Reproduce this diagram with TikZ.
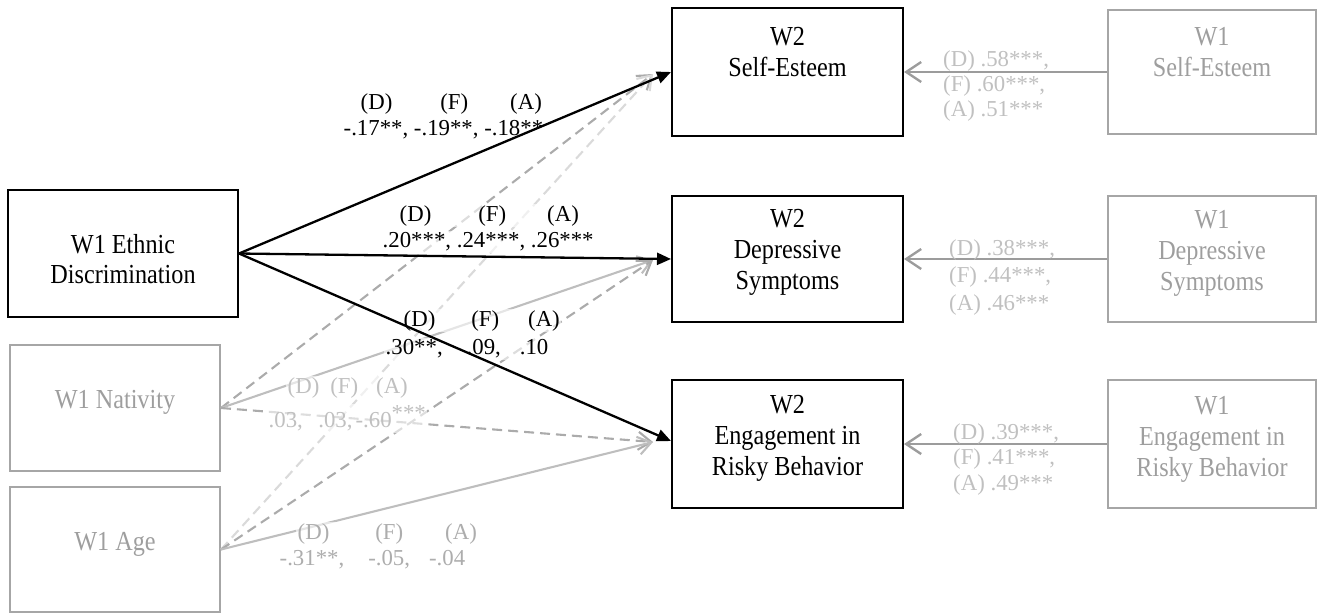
\documentclass[tikz,border=0pt]{standalone}
\usepackage{fontspec}
\setmainfont{Liberation Serif}
\newfontfamily\boxfont[FakeStretch=0.88]{Liberation Serif}
\usetikzlibrary{arrows.meta}
\definecolor{boxgray}{HTML}{A6A6A6}
\definecolor{txtgray}{HTML}{9E9E9E}
\definecolor{labgray}{HTML}{C0C0C0}
\definecolor{arrgray}{HTML}{9C9C9C}
\definecolor{lnA}{HTML}{ABABAB}
\definecolor{lnB}{HTML}{DADADA}
\definecolor{lnC}{HTML}{BEBEBE}
\begin{document}
\begin{tikzpicture}[x=1pt,y=-1pt,
  wbox/.style={draw=black,line width=2pt,inner sep=0pt},
  gbox/.style={draw=boxgray,line width=2pt,inner sep=0pt},
  btxt/.style={font=\boxfont\fontsize{27.5}{31}\selectfont,align=center,inner sep=0pt,anchor=north},
  gtxt/.style={btxt,text=txtgray},
  lab/.style={font=\fontsize{22.8}{25}\selectfont,inner sep=1.5pt,anchor=base west,fill=white,fill opacity=0.6,text opacity=1},
  glab/.style={lab,text=labgray},
  rlab/.style={font=\fontsize{22.8}{25}\selectfont,inner sep=0pt,anchor=north west,align=left,text=labgray},
  blk/.style={draw=black,line width=2.3pt,-{Triangle[length=14pt,width=12pt]}},
  gtip/.style={-{Straight Barb[length=13pt,width=18pt]}},
  gdash/.style={gtip,line width=2.1pt,dash pattern=on 10pt off 6pt},
  gsolid/.style={gtip,line width=2.1pt},
  rarr/.style={draw=arrgray,line width=2.4pt,-{Straight Barb[length=15pt,width=20pt]}}
]
\useasboundingbox (0,0) rectangle (1324,614);

% boxes
\node[wbox,minimum width=230pt,minimum height=127pt] (eth) at (123,253.5) {};
\node[gbox,minimum width=210pt,minimum height=126pt] (nat) at (115,408) {};
\node[gbox,minimum width=210pt,minimum height=125pt] (age) at (115,549.5) {};
\node[wbox,minimum width=231pt,minimum height=128pt] (se2) at (787.5,72) {};
\node[wbox,minimum width=231pt,minimum height=126pt] (dep2) at (787.5,259) {};
\node[wbox,minimum width=231pt,minimum height=128pt] (eng2) at (787.5,444) {};
\node[gbox,minimum width=208pt,minimum height=124pt] (se1) at (1212,72) {};
\node[gbox,minimum width=208pt,minimum height=126pt] (dep1) at (1212,259) {};
\node[gbox,minimum width=208pt,minimum height=128pt] (eng1) at (1212,444) {};

% box texts
\node[btxt,font=\boxfont\fontsize{27.5}{29.5}\selectfont] (etht) at (123,234.5) {W1 Ethnic\\Discrimination};
\node[gtxt] (natt) at (115,390) {W1 Nativity};
\node[gtxt] (aget) at (115,532) {W1 Age};
\node[btxt] (se2t) at (787.5,27.5) {W2\\Self-Esteem};
\node[btxt] (dep2t) at (787.5,209.5) {W2\\Depressive\\Symptoms};
\node[btxt] (eng2t) at (787.5,395.5) {W2\\Engagement in\\Risky Behavior};
\node[gtxt] (se1t) at (1212,27.5) {W1\\Self-Esteem};
\node[gtxt] (dep1t) at (1212,210.5) {W1\\Depressive\\Symptoms};
\node[gtxt] (eng1t) at (1212,396.5) {W1\\Engagement in\\Risky Behavior};

% gray tips
\coordinate (gse) at (653,74);
\coordinate (gdep) at (653,260);
\coordinate (geng) at (653,442);

% gray connectors from covariates
\draw[gdash,draw=lnA] (nat.east) -- (gse);
\draw[gdash,draw=lnB] (age.east) -- (gse);
\draw[gsolid,draw=lnC] (nat.east) -- (gdep);
\draw[gdash,draw=lnA] (age.east) -- (gdep);
\draw[gdash,draw=lnA] (nat.east) -- (geng);
\draw[gsolid,draw=lnC] (age.east) -- (geng);

% labels
\node[lab] (lse1) at (359,109) {(D)\hspace{48pt}(F)\hspace{42pt}(A)};
\node[lab] (lse2) at (342,135.8) {-.17**, -.19**, -.18**};
\node[lab] (ldep1) at (398,221) {(D)\hspace{47pt}(F)\hspace{41pt}(A)};
\node[lab] (ldep2) at (381,247.8) {.20***, .24***, .26***};
\node[lab] (leng1) at (402,326) {(D)\hspace{36pt}(F)\hspace{29pt}(A)};
\node[lab] (leng2) at (384,354.5) {.30**,\hspace{24pt}.09,\hspace{19pt}.10};
\node[glab] (lnat1) at (286,393) {(D)\hspace{11pt}(F)\hspace{18pt}(A)};
\node[glab] (lnat2) at (267,427.8) {.03,\hspace{15.5pt}.03,\hspace{3pt}-.60\raisebox{7pt}{***}};
\node[glab,text=labgray!90!black] (lage1) at (296,539) {(D)\hspace{46pt}(F)\hspace{42pt}(A)};
\node[glab,text=labgray!90!black] (lage2) at (278,565.5) {-.31**,\hspace{24pt}-.05,\hspace{19pt}-.04};

% black connectors
\draw[blk] (eth.east) -- (se2.west);
\draw[blk] (eth.east) -- (dep2.west);
\draw[blk] (eth.east) -- ([yshift=3pt]eng2.west);

% stability paths
\draw[rarr] (se1.west) -- (se2.east);
\draw[rarr] (dep1.west) -- (dep2.east);
\draw[rarr] (eng1.west) -- (eng2.east);
\node[rlab] (rse) at (943,50) {(D) .58***,\\(F) .60***,\\(A) .51***};
\node[rlab,font=\fontsize{22.8}{27.5}\selectfont] (rdep) at (949,239) {(D) .38***,\\(F) .44***,\\(A) .46***};
\node[rlab,font=\fontsize{22.8}{25.5}\selectfont] (reng) at (953,423) {(D) .39***,\\(F) .41***,\\(A) .49***};
\end{tikzpicture}
\end{document}
